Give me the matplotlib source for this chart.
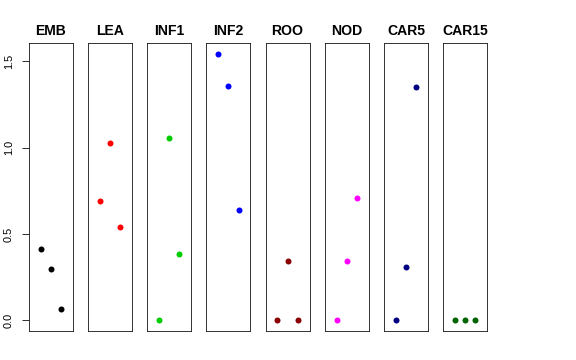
import matplotlib
matplotlib.use("Agg")
import matplotlib.pyplot as plt

# Valores
groups = ["EMB", "LEA", "INF1", "INF2", "ROO", "NOD", "CAR5", "CAR15"]
xpos = [1, 2, 3]
emb = [0.411, 0.295, 0.067]
lea = [0.693, 1.028, 0.540]
inf1 = [0.0, 1.057, 0.384]
inf2 = [1.544, 1.358, 0.639]
roo = [0.0, 0.343, 0.0]
nod = [0.0, 0.341, 0.708]
car5 = [0.0, 0.310, 1.353]
car15 = [0.0, 0.0, 0.0]
series = [emb, lea, inf1, inf2, roo, nod, car5, car15]
colors = ["black", "#FF0000", "#00CD00", "#0000FF", "#8B0000",
          "#FF00FF", "#000080", "#006400"]
yticks = [0.0, 0.5, 1.0, 1.5]

plt.rcParams["font.family"] = ["Liberation Sans", "DejaVu Sans"]

W, H = 576, 360
fig = plt.figure(figsize=(W / 72, H / 72), dpi=72)

left0, step, width = 29, 59.15, 44
top, bottom = 43, 331
ymax = max(max(s) for s in series)
pad = 0.04 * ymax

for i, (name, vals, col) in enumerate(zip(groups, series, colors)):
    ax = fig.add_axes([(left0 + i * step) / W, (H - bottom) / H,
                       width / W, (bottom - top) / H])
    ax.plot(xpos, vals, "o", color=col, markersize=6, markeredgewidth=0)
    ax.set_xlim(-0.16, 4.16)
    ax.set_ylim(-pad, ymax + pad)
    ax.set_xticks([])
    for sp in ax.spines.values():
        sp.set_linewidth(0.9)
        sp.set_color("#222222")
    ax.set_title(name, fontsize=14, fontweight="bold", pad=8)
    if i == 0:
        ax.set_yticks(yticks)
        ax.set_yticklabels([f"{v:.1f}" for v in yticks], rotation=90,
                           va="center", fontsize=11)
        ax.tick_params(axis="y", length=7, width=0.8, pad=8)
    else:
        ax.set_yticks([])

fig.savefig("out.png", dpi=72)
